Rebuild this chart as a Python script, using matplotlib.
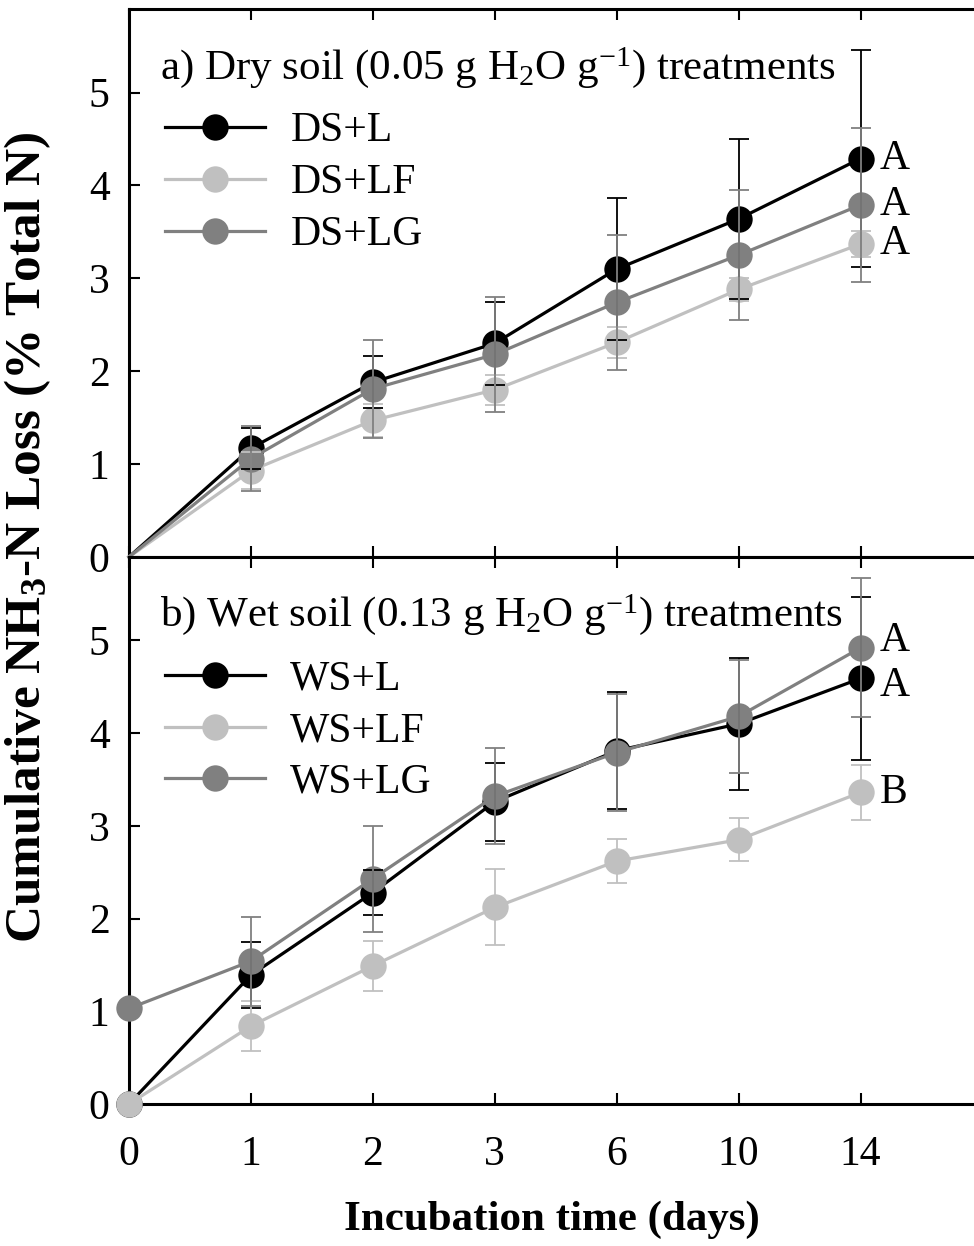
import numpy as np
import matplotlib
matplotlib.use("Agg")
import matplotlib.pyplot as plt

plt.rcParams["font.family"] = ["Liberation Serif", "DejaVu Serif"]
plt.rcParams["mathtext.fontset"] = "custom"
plt.rcParams["mathtext.rm"] = "Liberation Serif"
plt.rcParams["mathtext.it"] = "Liberation Serif:italic"
plt.rcParams["mathtext.bf"] = "Liberation Serif:bold"

# incubation days (plotted as equally spaced categories)
days = ["0", "1", "2", "3", "6", "10", "14"]

# a) dry soil
ds_l = [0, 1.17, 1.88, 2.30, 3.10, 3.64, 4.29]
ds_lf = [0, 0.93, 1.47, 1.80, 2.31, 2.88, 3.37]
ds_lg = [0, 1.06, 1.81, 2.18, 2.74, 3.25, 3.79]
ds_l_err = [0, 0.22, 0.28, 0.45, 0.76, 0.86, 1.17]
ds_lf_err = [0, 0.20, 0.18, 0.16, 0.17, 0.12, 0.14]
ds_lg_err = [0, 0.35, 0.53, 0.62, 0.73, 0.70, 0.83]
ds_letters = ["A", "A", "A"]

# b) wet soil
ws_l = [0, 1.39, 2.28, 3.26, 3.81, 4.10, 4.59]
ws_lf = [0, 0.84, 1.49, 2.12, 2.62, 2.85, 3.36]
ws_lg = [1.03, 1.54, 2.43, 3.32, 3.79, 4.18, 4.92]
ws_l_err = [0, 0.36, 0.24, 0.42, 0.63, 0.71, 0.88]
ws_lf_err = [0, 0.27, 0.27, 0.41, 0.24, 0.23, 0.30]
ws_lg_err = [0, 0.48, 0.57, 0.52, 0.63, 0.61, 0.75]
ws_letters = ["A", "A", "B"]

colors = {"L": "#000000", "LF": "#c0c0c0", "LG": "#808080"}
FS = 30


def draw_panel(ax, prefix, series, errs, letters, title, first_marker, nudge):
    x = np.arange(len(days))
    keys = ["L", "LF", "LG"]
    for i, k in enumerate(keys):
        ax.plot(x, series[i], color=colors[k], lw=2.3, marker="o", ms=19,
                mec=colors[k], mew=0, markevery=list(range(first_marker, len(x))),
                label=prefix + "+" + k, zorder=3 + i, clip_on=False)
    for i, k in enumerate(keys):
        ax.errorbar(x[1:], series[i][1:], yerr=errs[i][1:], fmt="none",
                    ecolor=colors[k], elinewidth=1.3, capsize=7.5, capthick=1.3,
                    zorder=7 + i)
    # significance letters next to the last points
    for k, lbl, dy in zip(["L", "LG", "LF"], letters, nudge):
        yv = series[keys.index(k)][-1]
        ax.annotate(lbl, (x[-1], yv), xytext=(14, dy), textcoords="offset points",
                    va="center", ha="left", fontsize=FS)

    ax.set_xlim(0, 6.93)
    ax.set_ylim(0, 5.9)
    ax.set_yticks(range(6))
    ax.set_xticks(x)
    ax.set_xticklabels(days)
    ax.tick_params(axis="both", direction="in", length=8, width=1.5,
                   labelsize=FS, top=True, right=False)
    ax.tick_params(axis="y", pad=14)
    ax.tick_params(axis="x", pad=23)
    ax.spines["right"].set_visible(False)
    for s in ["left", "top", "bottom"]:
        ax.spines[s].set_linewidth(2.2)

    ax.text(0.037, 0.873, title, transform=ax.transAxes, fontsize=31,
            va="baseline", ha="left")
    ax.legend(loc="upper left", bbox_to_anchor=(0.043, 0.812), frameon=False,
              fontsize=FS, handlelength=2.4, handletextpad=0.6,
              labelspacing=0.32, borderpad=0, borderaxespad=0, numpoints=1)


fig = plt.figure(figsize=(9.74, 12.46), dpi=100)
ax1 = fig.add_axes([0.1324, 0.553, 0.8676, 0.4398])
ax2 = fig.add_axes([0.1324, 0.114, 0.8676, 0.439])

draw_panel(ax1, "DS", [ds_l, ds_lf, ds_lg], [ds_l_err, ds_lf_err, ds_lg_err],
           ds_letters, r"a) Dry soil (0.05 g H$_2$O g$^{-1}$) treatments", 1,
           [0, 0, 0])
draw_panel(ax2, "WS", [ws_l, ws_lf, ws_lg], [ws_l_err, ws_lf_err, ws_lg_err],
           ws_letters, r"b) Wet soil (0.13 g H$_2$O g$^{-1}$) treatments", 0,
           [-5, 5, 0])
ax1.tick_params(axis="x", labelbottom=False)

ax2.set_xlabel("Incubation time (days)", fontsize=31, fontweight="bold",
               labelpad=19)
fig.text(0.028, 0.569, r"Cumulative NH$_\mathbf{3}$-N Loss (% Total N)",
         rotation=90, fontsize=37, fontweight="bold", ha="center", va="center")

fig.savefig("out.png", dpi=100)
